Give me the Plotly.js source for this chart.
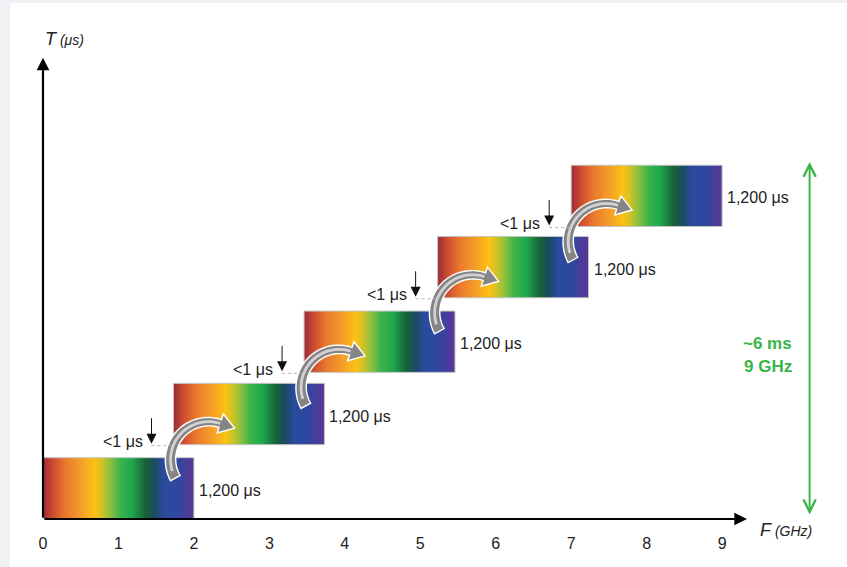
<!DOCTYPE html>
<html>
<head>
<meta charset="utf-8">
<script src="https://cdn.plot.ly/plotly-3.0.1.min.js"></script>
<style>
  html, body { margin: 0; padding: 0; background: #eff1f4; width: 847px; height: 567px; overflow: hidden; }
  #chart { position: absolute; left: 10px; top: 3px; width: 837px; height: 564px; background: #ffffff; }
</style>
</head>
<body>
<div id="chart"></div>
<script>
// ---- data ----
const sweepNames   = ['Sweep 1', 'Sweep 2', 'Sweep 3', 'Sweep 4', 'Sweep 5'];
const freqStartGHz = [0, 1.73, 3.46, 5.23, 7.0];      // start of each 2 GHz block
const freqEndGHz   = [2, 3.73, 5.46, 7.23, 9.0];      // end of each block
const timeStartUs  = [0, 1455, 2870, 4330, 5725];     // schematic start (not to scale)
const dwellUs      = [1200, 1200, 1200, 1200, 1200];
const dwellLabels  = ['1,200 μs', '1,200 μs', '1,200 μs', '1,200 μs', '1,200 μs'];
const gapLabels    = ['<1 μs', '<1 μs', '<1 μs', '<1 μs'];
const xTickVals    = [0, 1, 2, 3, 4, 5, 6, 7, 8, 9];
const xTickText    = ['0', '1', '2', '3', '4', '5', '6', '7', '8', '9'];
const totalLabels  = ['~6 ms', '9 GHz'];
const axisLabelX   = ['F', '(GHz)'];
const axisLabelY   = ['T', '(μs)'];

// ---- layout geometry ----
const W = 837, H = 564, ML = 33, MR = 14, MT = 0, MB = 48;
const plotW = W - ML - MR, plotH = H - MT - MB;
const xRange = [0, 10.47], yRange = [0, 10100];
const pxX = plotW / (xRange[1] - xRange[0]);   // px per GHz
const uY = (yRange[1] - yRange[0]) / plotH;    // μs-units per px

const spectrum = [
  [0.00, '#9a2b36'], [0.07, '#cf4e30'], [0.15, '#ea7a2d'], [0.25, '#f49c29'],
  [0.34, '#fdc013'], [0.39, '#d2c225'], [0.45, '#86c041'], [0.51, '#3db34a'],
  [0.59, '#1fa64d'], [0.68, '#176138'], [0.74, '#1b4a62'], [0.80, '#2a4b9f'],
  [0.89, '#2f47a1'], [1.00, '#5b3694']
];

const traces = [];
for (let i = 0; i < sweepNames.length; i++) {
  const x0 = freqStartGHz[i], x1 = freqEndGHz[i];
  const y0 = timeStartUs[i], y1 = timeStartUs[i] + dwellUs[i];
  traces.push({
    type: 'scatter', mode: 'lines', name: sweepNames[i],
    x: [x0, x1, x1, x0, x0], y: [y0, y0, y1, y1, y0],
    fill: 'toself',
    fillgradient: { type: 'horizontal', colorscale: spectrum },
    line: { color: '#c4c4c4', width: 1 },
    hoverinfo: 'skip', showlegend: false
  });
}

const shapes = [];
const annotations = [];
const font = 'Liberation Sans, Arial, Helvetica, sans-serif';
const txt = { family: font, size: 16, color: '#222222' };

// curved grey arrows between blocks
function toData(ax, ay, sx, sy) { return [ax + sx / pxX, ay - sy * uY]; }
for (let i = 0; i < sweepNames.length - 1; i++) {
  const ax = freqStartGHz[i + 1], ay = timeStartUs[i + 1];
  const cx = 35, cy = 15, R = 38;
  const ts = 151 * Math.PI / 180, te = 288 * Math.PI / 180;
  const N = 36;
  const outer = [], inner = [], hiO = [], hiI = [];
  for (let k = 0; k <= N; k++) {
    const t = ts + (te - ts) * k / N;
    const w = 11 - 3 * k / N;
    const c = Math.cos(t), s = Math.sin(t);
    outer.push(toData(ax, ay, cx + (R + w / 2) * c, cy + (R + w / 2) * s));
    inner.push(toData(ax, ay, cx + (R - w / 2) * c, cy + (R - w / 2) * s));
    if (k >= 3) {
      hiO.push(toData(ax, ay, cx + (R + 1.4) * c, cy + (R + 1.4) * s));
      hiI.push(toData(ax, ay, cx + (R - 1.4) * c, cy + (R - 1.4) * s));
    }
  }
  const c = Math.cos(te), s = Math.sin(te);
  const ex = cx + R * c, ey = cy + R * s;
  const dx = -s, dy = c;
  const h1 = toData(ax, ay, ex + 10 * c, ey + 10 * s);
  const tip = toData(ax, ay, ex + 15 * dx, ey + 15 * dy);
  const h2 = toData(ax, ay, ex - 10 * c, ey - 10 * s);
  let p = 'M ' + outer.map(q => q[0] + ',' + q[1]).join(' L ');
  p += ' L ' + h1.join(',') + ' L ' + tip.join(',') + ' L ' + h2.join(',');
  p += ' L ' + inner.slice().reverse().map(q => q[0] + ',' + q[1]).join(' L ') + ' Z';
  shapes.push({ type: 'path', xref: 'x', yref: 'y', path: p, fillcolor: '#858585',
                line: { color: '#ffffff', width: 1.4 }, layer: 'above' });
  let hp = 'M ' + hiO.map(q => q[0] + ',' + q[1]).join(' L ');
  hp += ' L ' + hiI.slice().reverse().map(q => q[0] + ',' + q[1]).join(' L ') + ' Z';
  shapes.push({ type: 'path', xref: 'x', yref: 'y', path: hp, fillcolor: '#d2d2d2',
                line: { width: 0 }, layer: 'above' });

  // "<1 μs" marker: down arrow + dotted line + label
  const arrowX = ax - 22 / pxX;
  shapes.push({ type: 'line', xref: 'x', yref: 'y', x0: arrowX, x1: ax, y0: ay - uY, y1: ay - uY,
                line: { color: '#b5b5b5', width: 1, dash: 'dot' }, layer: 'above' });
  annotations.push({ x: arrowX, y: ay + 1 * uY, xref: 'x', yref: 'y', ax: 0, ay: -27,
                     showarrow: true, arrowhead: 2, arrowsize: 2, arrowwidth: 1,
                     arrowcolor: '#111111', text: '', standoff: 0 });
  annotations.push({ x: arrowX, y: ay, xref: 'x', yref: 'y', xanchor: 'right', yanchor: 'middle',
                     xshift: -7, yshift: 3, showarrow: false, text: gapLabels[i], font: txt });
}

// duration labels
for (let i = 0; i < sweepNames.length; i++) {
  annotations.push({ x: freqEndGHz[i], y: timeStartUs[i] + dwellUs[i] / 2, xref: 'x', yref: 'y',
                     xanchor: 'left', yanchor: 'middle', xshift: 3, yshift: -2, showarrow: false,
                     text: dwellLabels[i], font: txt });
}

// axes drawn as arrows
annotations.push({ x: 9.33, y: 0, ax: 0, ay: 0, xref: 'x', yref: 'y', axref: 'x', ayref: 'y',
                   showarrow: true, arrowhead: 2, arrowsize: 1.15, arrowwidth: 2.2, arrowcolor: '#000',
                   text: '', standoff: 0 });
annotations.push({ x: 0, y: 9030, ax: 0, ay: 0, xref: 'x', yref: 'y', axref: 'x', ayref: 'y',
                   showarrow: true, arrowhead: 2, arrowsize: 1.15, arrowwidth: 2.2, arrowcolor: '#000',
                   text: '', standoff: 0 });
// axis labels
annotations.push({ x: 0, y: 9400, xref: 'x', yref: 'y', xanchor: 'left', yanchor: 'middle', xshift: 0,
                   showarrow: false,
                   text: '<i>' + axisLabelY[0] + '</i><span style="font-size:14px"><i> ' + axisLabelY[1] + '</i></span>',
                   font: { family: font, size: 18, color: '#222222' } });
annotations.push({ x: 9.48, y: 0, xref: 'x', yref: 'paper', xanchor: 'left', yanchor: 'middle', yshift: -11,
                   showarrow: false,
                   text: '<i>' + axisLabelX[0] + '</i><span style="font-size:14px"><i> ' + axisLabelX[1] + '</i></span>',
                   font: { family: font, size: 18, color: '#222222' } });

// total span double arrow
const green = '#3ab54a';
annotations.push({ x: 10.16, y: 6990, ax: 10.16, ay: 60, xref: 'x', yref: 'y', axref: 'x', ayref: 'y',
                   showarrow: true, arrowhead: 5, startarrowhead: 5, arrowside: 'end+start',
                   arrowsize: 1.2, startarrowsize: 1.2, arrowwidth: 2, arrowcolor: green, text: '',
                   standoff: 0, startstandoff: 0 });
annotations.push({ x: 9.95, y: 3444, xref: 'x', yref: 'y', xanchor: 'right', yanchor: 'middle',
                   showarrow: false, text: '<b>' + totalLabels[0] + '</b>',
                   font: { family: font, size: 17, color: green } });
annotations.push({ x: 9.95, y: 2994, xref: 'x', yref: 'y', xanchor: 'right', yanchor: 'middle',
                   showarrow: false, text: '<b>' + totalLabels[1] + '</b>',
                   font: { family: font, size: 17, color: green } });

const layout = {
  width: W, height: H,
  margin: { l: ML, r: MR, t: MT, b: MB, pad: 0 },
  paper_bgcolor: '#ffffff', plot_bgcolor: '#ffffff',
  showlegend: false,
  xaxis: { range: xRange, showgrid: false, zeroline: false, showline: false, ticks: '',
           tickvals: xTickVals, ticktext: xTickText, ticklabelstandoff: 13,
           tickfont: { family: font, size: 16, color: '#222222' }, fixedrange: true },
  yaxis: { range: yRange, visible: false, fixedrange: true },
  shapes: shapes,
  annotations: annotations
};

Plotly.newPlot('chart', traces, layout, { displayModeBar: false, staticPlot: true });
</script>
</body>
</html>
